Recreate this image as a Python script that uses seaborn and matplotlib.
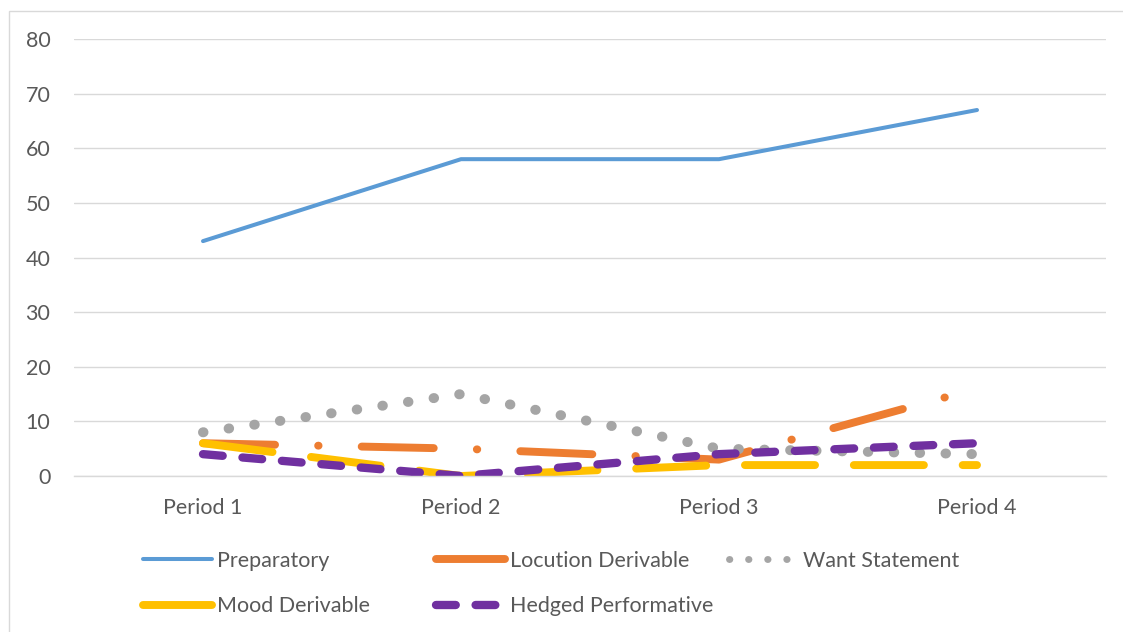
import matplotlib
matplotlib.use("Agg")
import matplotlib.pyplot as plt
from matplotlib.patches import Rectangle
from matplotlib.lines import Line2D
import pandas as pd
import seaborn as sns

# Survey counts per period for each request strategy
periods = ["Period 1", "Period 2", "Period 3", "Period 4"]
preparatory = [43, 58, 58, 67]
locution_derivable = [6, 5, 3, 16]
want_statement = [8, 15, 5, 4]
mood_derivable = [6, 0, 2, 2]
hedged_performative = [4, 0, 4, 6]

series_names = ["Preparatory", "Locution Derivable", "Want Statement",
                "Mood Derivable", "Hedged Performative"]
series_values = [preparatory, locution_derivable, want_statement,
                 mood_derivable, hedged_performative]

rows = []
for name, vals in zip(series_names, series_values):
    for p, v in zip(periods, vals):
        rows.append({"Period": p, "Value": v, "Series": name})
df = pd.DataFrame(rows)

palette = {
    "Preparatory": "#5B9BD5",
    "Locution Derivable": "#ED7D31",
    "Want Statement": "#A5A5A5",
    "Mood Derivable": "#FFC000",
    "Hedged Performative": "#7030A0",
}
# dash patterns (in multiples of the line width)
dashes = {
    "Preparatory": "",
    "Locution Derivable": (9.1, 5.45, 0.05, 5.45),
    "Want Statement": (0.05, 2.54),
    "Mood Derivable": (8.85, 4.9),
    "Hedged Performative": (2.37, 2.38),
}
widths = {
    "Preparatory": 2.9,
    "Locution Derivable": 5.7,
    "Want Statement": 7.2,
    "Mood Derivable": 5.7,
    "Hedged Performative": 6.0,
}

sns.set_theme(style="white")
plt.rcParams["font.family"] = ["Lato", "DejaVu Sans"]

W, H = 1123, 632
fig = plt.figure(figsize=(W / 100, H / 100), dpi=100)
ax = fig.add_axes([74 / W, 1 - 476 / H, (1106 - 74) / W, (476 - 39) / H])

sns.lineplot(data=df, x="Period", y="Value", hue="Series", style="Series",
             size="Series", hue_order=series_names, style_order=series_names,
             size_order=series_names, palette=palette, dashes=dashes,
             sizes=widths, estimator=None, sort=False, legend=False, ax=ax)

handles = {}
for line, name in zip(ax.lines, series_names):
    line.set_dash_capstyle("round")
    line.set_solid_capstyle("round")
    handles[name] = line

# finer dotted sample for the legend key
handles["Want Statement"] = Line2D([], [], color=palette["Want Statement"],
                                   linewidth=5.0, dashes=(0.05, 2.7),
                                   dash_capstyle="round")

ax.set_xlim(-0.5, 3.5)
ax.set_ylim(0, 80)
ax.set_yticks(range(0, 81, 10))
ax.set_xlabel("")
ax.set_ylabel("")
ax.grid(axis="y", color="#D9D9D9", linewidth=1.0)
ax.grid(axis="x", visible=False)
for side in ["top", "right", "left"]:
    ax.spines[side].set_visible(False)
ax.spines["bottom"].set_color("#D9D9D9")
ax.spines["bottom"].set_linewidth(1.0)
ax.set_axisbelow(True)
ax.tick_params(axis="y", length=0, pad=17, labelsize=15.5, labelcolor="#595959")
ax.tick_params(axis="x", length=0, pad=16, labelsize=15.5, labelcolor="#595959")

leg_kw = dict(loc="center left", frameon=False, fontsize=15.5, handlelength=3.2,
              handletextpad=0.25, labelspacing=1.2, borderpad=0,
              borderaxespad=0, labelcolor="#595959")
columns = [
    (["Preparatory", "Mood Derivable"], 143, 583.5),
    (["Locution Derivable", "Hedged Performative"], 436, 583.5),
    (["Want Statement"], 729, 561),
]
for names, x, y in columns:
    fig.legend([handles[n] for n in names], names,
               bbox_to_anchor=(x / W, 1 - y / H), **leg_kw)

fig.patches.append(Rectangle((8.5 / W, -0.05), 1.0, (H - 10.5) / H + 0.05,
                             transform=fig.transFigure, fill=False,
                             edgecolor="#D9D9D9", linewidth=1.0))

fig.savefig("out.png", dpi=100)
